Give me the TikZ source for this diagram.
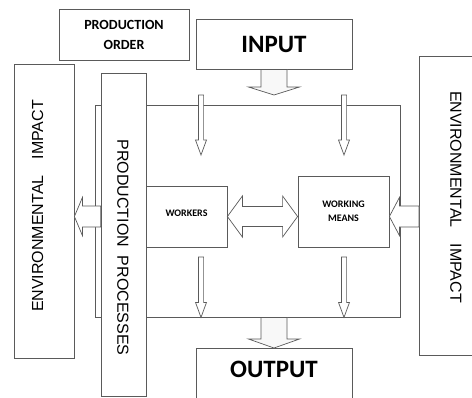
\documentclass[tikz,border=0pt]{standalone}
\usepackage{fontspec}
\setmainfont{Carlito}
\newfontfamily\arialfont{Liberation Sans}
\usetikzlibrary{calc}
\definecolor{lgray}{RGB}{90,90,90}
\definecolor{afill}{RGB}{248,248,248}

\begin{document}
\begin{tikzpicture}[x=1pt,y=-1pt,
    box/.style={rectangle, draw=lgray, fill=white, line width=0.8pt, inner sep=0},
    vtext/.style={font=\arialfont\fontsize{16}{16}\selectfont},
    vblk/.style n args={3}{draw=lgray, fill=white, line width=0.7pt,
      to path={let \p1=(\tikztostart), \p2=(\tikztotarget) in
        (\x1-#1pt,\y1) -- (\x1-#1pt,\y2+#3pt) -- (\x1-#2pt,\y2+#3pt) -- (\x1,\y2)
        -- (\x1+#2pt,\y2+#3pt) -- (\x1+#1pt,\y2+#3pt) -- (\x1+#1pt,\y1) -- cycle}},
    hblk/.style n args={3}{draw=lgray, fill=white, line width=0.7pt,
      to path={let \p1=(\tikztostart), \p2=(\tikztotarget) in
        (\x1,\y1-#1pt) -- (\x2+#3pt,\y1-#1pt) -- (\x2+#3pt,\y1-#2pt) -- (\x2,\y1)
        -- (\x2+#3pt,\y1+#2pt) -- (\x2+#3pt,\y1+#1pt) -- (\x1,\y1+#1pt) -- cycle}},
    dblk/.style n args={3}{draw=lgray, fill=white, line width=0.7pt,
      to path={let \p1=(\tikztostart), \p2=(\tikztotarget) in
        (\x1,\y1) -- (\x1+#3pt,\y1+#2pt) -- (\x1+#3pt,\y1+#1pt) -- (\x2-#3pt,\y1+#1pt)
        -- (\x2-#3pt,\y1+#2pt) -- (\x2,\y1) -- (\x2-#3pt,\y1-#2pt) -- (\x2-#3pt,\y1-#1pt)
        -- (\x1+#3pt,\y1-#1pt) -- (\x1+#3pt,\y1-#2pt) -- cycle}}]
    \useasboundingbox (0,0) rectangle (472,397);
    \clip (0,0) rectangle (472,397);

    % boxes
    \node[box, minimum width=305, minimum height=212] (main) at (247.5,211) {};
    \node[box, minimum width=45, minimum height=323] (pp) at (123.5,234.5) {};
    \node[vtext, rotate=-90] (pptxt) at (123,247.5) {PRODUCTION\ \ PROCESSES};
    \node[box, minimum width=60, minimum height=294] (envL) at (44,211) {};
    \node[vtext, rotate=90] (envLtxt) at (37.5,206) {ENVIRONMENTAL\hspace{16pt}IMPACT};
    \node[box, minimum width=70, minimum height=299, anchor=north west] (envR) at (419,56) {};
    \node[vtext, rotate=-90] (envRtxt) at (456,197) {ENVIRONMENTAL\hspace{16pt}IMPACT};
    \node[box, minimum width=130, minimum height=51, align=center,
      font=\bfseries\fontsize{14}{20}\selectfont] (order) at (124,34.5) {PRODUCTION\\ORDER};
    \node[box, minimum width=156, minimum height=50, font=\bfseries\fontsize{25}{25}\selectfont] (inp) at (274,44) {INPUT};
    \node[box, minimum width=156, minimum height=70, anchor=north] (out) at (274,348) {};
    \node[font=\bfseries\fontsize{25}{25}\selectfont] (outtxt) at (274,369.5) {OUTPUT};
    \node[box, minimum width=81, minimum height=61, font=\bfseries\fontsize{10}{14}\selectfont] (wk) at (186.5,216.5) {\raisebox{6pt}{WORKERS}};
    \node[box, minimum width=91, minimum height=71, align=center,
      font=\bfseries\fontsize{10}{14}\selectfont] (wm) at (343.5,211.5) {WORKING\\MEANS};

    % free ends of the small arrows
    \coordinate (t1) at (201,95);
    \coordinate (t2) at (201,155);
    \coordinate (t3) at (344,95);
    \coordinate (t4) at (344,155);
    \coordinate (b1) at (201,257);
    \coordinate (b3) at (344,257);

    % block arrows
    \draw[vblk={13}{25.5}{8}, fill=afill] (inp.south) to (inp.south |- t1);
    \draw[vblk={13}{25.5}{9}, fill=afill] (out.north |- main.south) to (out.north);
    \draw[vblk={2.6}{5.5}{15}] (t1) to (t2);
    \draw[vblk={2.6}{5.5}{15}] (t3) to (t4);
    \draw[vblk={2.6}{5.5}{15}] (b1) to (b1 |- main.south);
    \draw[vblk={2.6}{5.5}{15}] (b3) to (b3 |- main.south);
    \draw[hblk={10.5}{19}{8}] (pp.west |- wk) to (envL.east |- wk);
    \draw[hblk={10.5}{19}{10}] (envR.west |- wk) to (wm.east |- wk);
    \draw[dblk={10}{20.5}{15}] (wk.east) to (wm.west |- wk);
\end{tikzpicture}
\end{document}
